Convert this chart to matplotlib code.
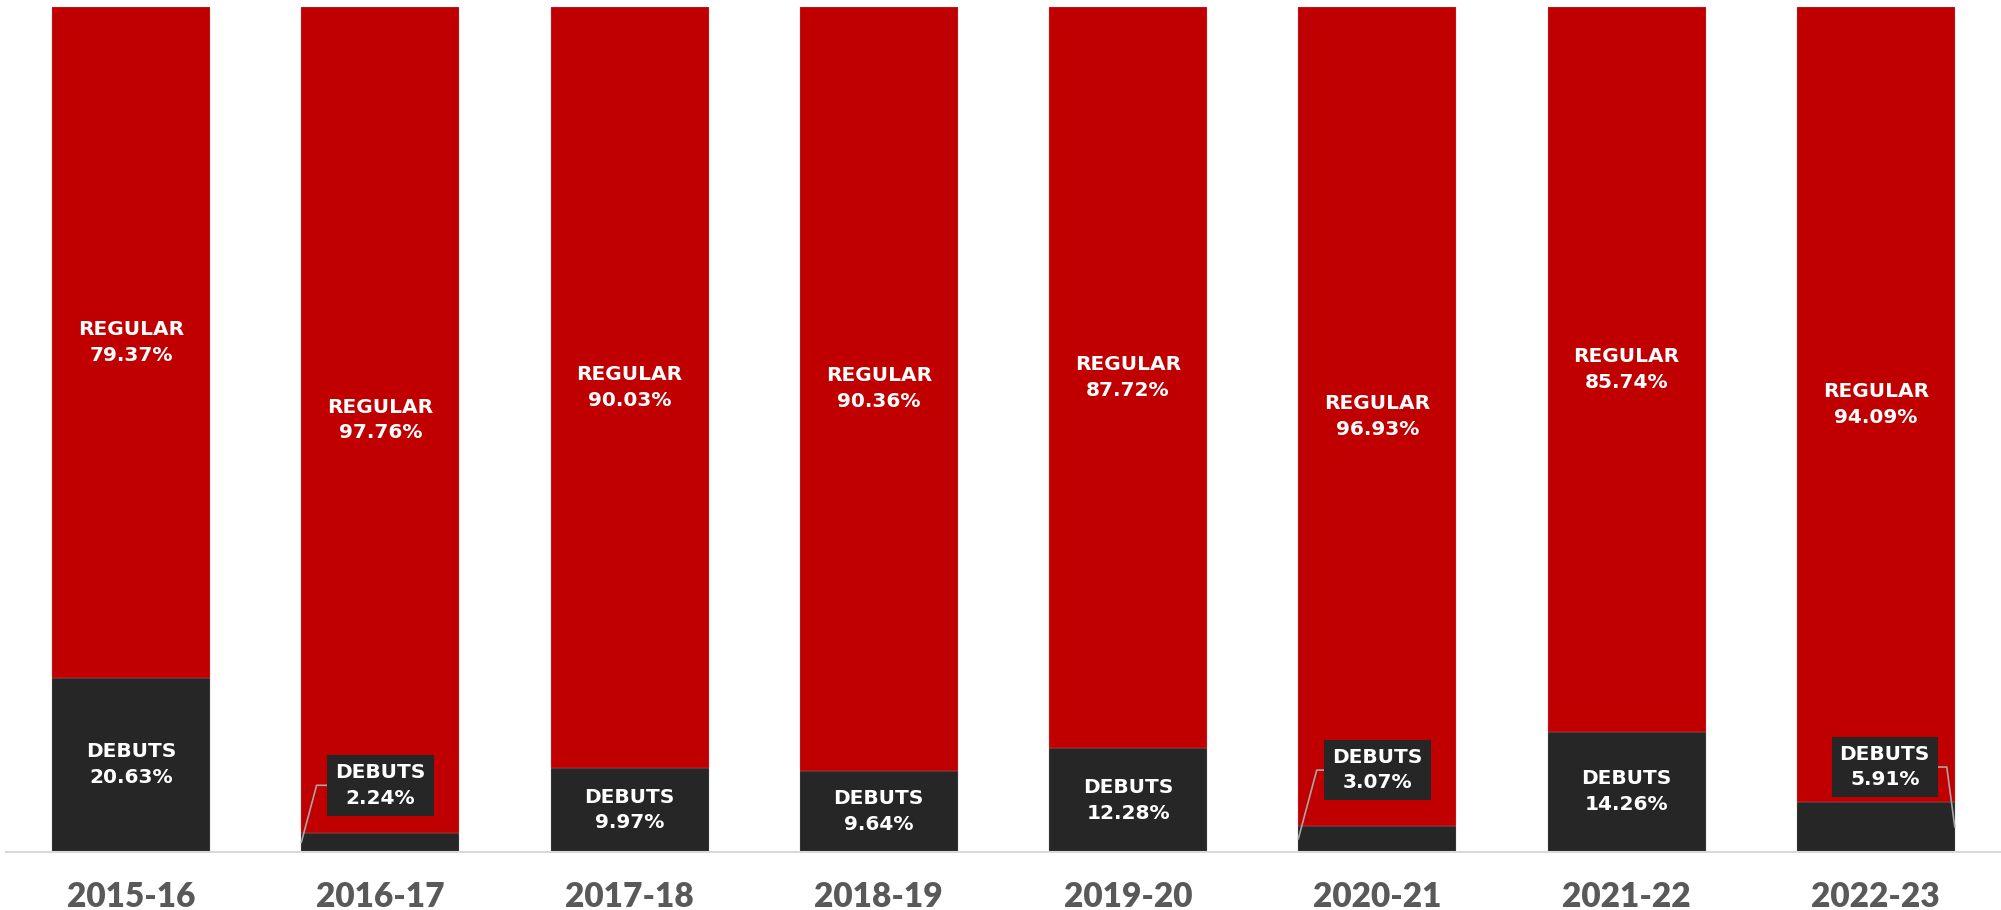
import matplotlib
matplotlib.use("Agg")
import matplotlib.pyplot as plt

seasons = ['2015-16', '2016-17', '2017-18', '2018-19', '2019-20', '2020-21', '2021-22', '2022-23']
debuts = [20.63, 2.24, 9.97, 9.64, 12.28, 3.07, 14.26, 5.91]
regular = [79.37, 97.76, 90.03, 90.36, 87.72, 96.93, 85.74, 94.09]

red = '#C00000'
dark = '#262626'

# small segments get a callout box instead: (dx, box y, side of leader)
callouts = {1: (0.0, 7.9, 'left'), 5: (0.0, 9.7, 'left'), 7: (0.036, 10.06, 'right')}

fig = plt.figure(figsize=(20.01, 9.10), dpi=100)
ax = fig.add_axes([0.0032, 0.0637, 0.9965, 0.9286])

x = range(len(seasons))
w = 0.634
ax.bar(x, debuts, width=w, color=dark, edgecolor='#8a8a8a', linewidth=0.2)
ax.bar(x, regular, width=w, bottom=debuts, color=red, edgecolor='#e08080', linewidth=0.2)

lab = dict(color='white', fontsize=14.5, fontweight='bold', family='DejaVu Sans',
           ha='center', va='center', multialignment='center', linespacing=1.45)

for i in x:
    ax.text(i, debuts[i] + regular[i] / 2, f"REGULAR\n{regular[i]:.2f}%", **lab)
    txt = f"DEBUTS\n{debuts[i]:.2f}%"
    if i in callouts:
        dx, by, side = callouts[i]
        if side == 'left':
            tx, ang = i - w / 2, 75
        else:
            tx, ang = i + w / 2, 97.6
        ax.annotate(txt, xy=(tx, debuts[i] / 2), xytext=(i + dx, by),
                    bbox=dict(boxstyle='square,pad=0.4', fc=dark, ec='none'),
                    arrowprops=dict(arrowstyle='-', color='#a6a6a6', lw=1.2,
                                    shrinkA=0, shrinkB=0,
                                    connectionstyle=f"angle,angleA=0,angleB={ang},rad=0"),
                    **lab)
    else:
        ax.text(i, debuts[i] / 2, txt, **lab)

ax.set_xlim(-0.5, 7.5)
ax.set_ylim(0, 100)
ax.set_xticks(list(x))
ax.set_xticklabels(seasons, fontsize=24, fontweight='heavy', family='Lato', color='#595959')
ax.tick_params(axis='x', length=0, pad=21)
ax.set_yticks([])
for s in ['top', 'left', 'right']:
    ax.spines[s].set_visible(False)
ax.spines['bottom'].set_color('#d9d9d9')
ax.spines['bottom'].set_linewidth(1.5)

fig.savefig('out.png', dpi=100)
